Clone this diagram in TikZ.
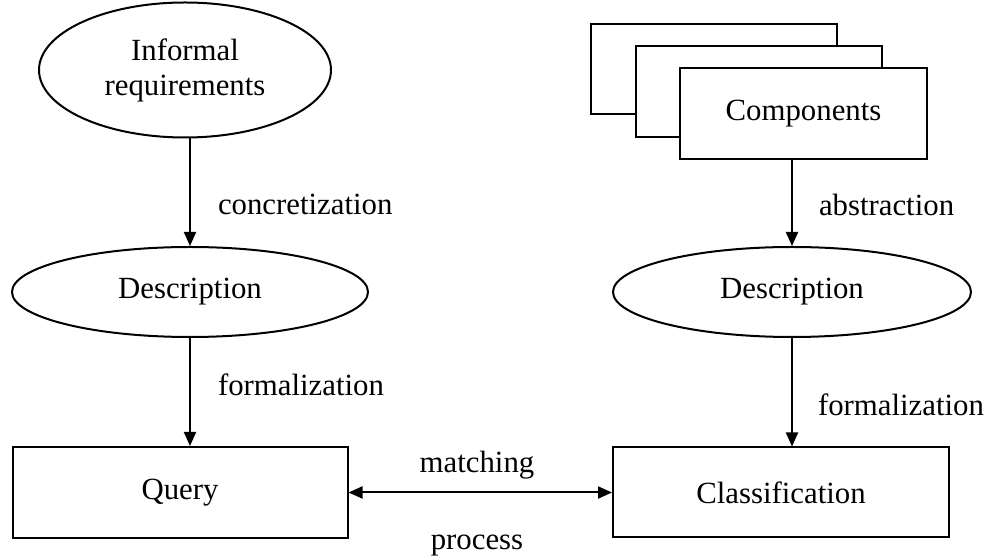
\documentclass[tikz,border=0pt]{standalone}
\usepackage{fontspec}
\setmainfont{Liberation Serif}
\usetikzlibrary{shapes.geometric,arrows.meta}

\begin{document}
\begin{tikzpicture}[x=0.5pt,y=-0.5pt,
  font=\fontsize{15.4}{17.5}\selectfont,
  line width=1pt,
  oval/.style={draw,ellipse,inner sep=0pt,align=center},
  box/.style={draw,rectangle,fill=white,inner sep=0pt},
  flow/.style={-{Triangle[length=7pt,width=6pt]}},
  lbl/.style={anchor=base west,inner sep=0pt}]
\useasboundingbox (0,0) rectangle (985,560);

% Left side: requirements
\node[oval,minimum width=146pt,minimum height=67.5pt] (inf) at (185,70) {Informal\\requirements};
\node[oval,minimum width=178pt,minimum height=45pt] (descL) at (190,292) {Description};
\node[box,minimum width=167.5pt,minimum height=45.5pt] (query) at (180,492.5) {Query};

% Right side: stacked components
\node[box,minimum width=123pt,minimum height=45pt] (comp3) at (714,69) {};
\node[box,minimum width=123pt,minimum height=45.5pt] (comp2) at (759,91.5) {};
\node[box,minimum width=123.5pt,minimum height=45.5pt] (comp) at (803.5,113.5) {Components};
\node[oval,minimum width=179pt,minimum height=45pt] (descR) at (792,292) {Description};
\node[box,minimum width=168pt,minimum height=45pt] (class) at (781,492.5) {Classification};

% Arrows
\draw[flow] (inf.south -| descL) -- (descL);
\draw[flow] (descL) -- (descL |- query.north);
\draw[flow] (comp.south -| descR) -- (descR);
\draw[flow] (descR) -- (descR |- class.north);
\draw[{Triangle[length=7pt,width=6pt]}-{Triangle[length=7pt,width=6pt]}] (query.east) -- (class.west);

% Labels
\node[lbl] (lconc) at (217,215) {concretization};
\node[lbl] (lformL) at (217,396) {formalization};
\node[lbl] (labs) at (818,216) {abstraction};
\node[lbl] (lformR) at (817,416) {formalization};
\node[anchor=base,inner sep=0pt] (lmatch) at (477,473) {matching};
\node[anchor=base,inner sep=0pt] (lproc) at (477,550) {process};
\end{tikzpicture}
\end{document}
